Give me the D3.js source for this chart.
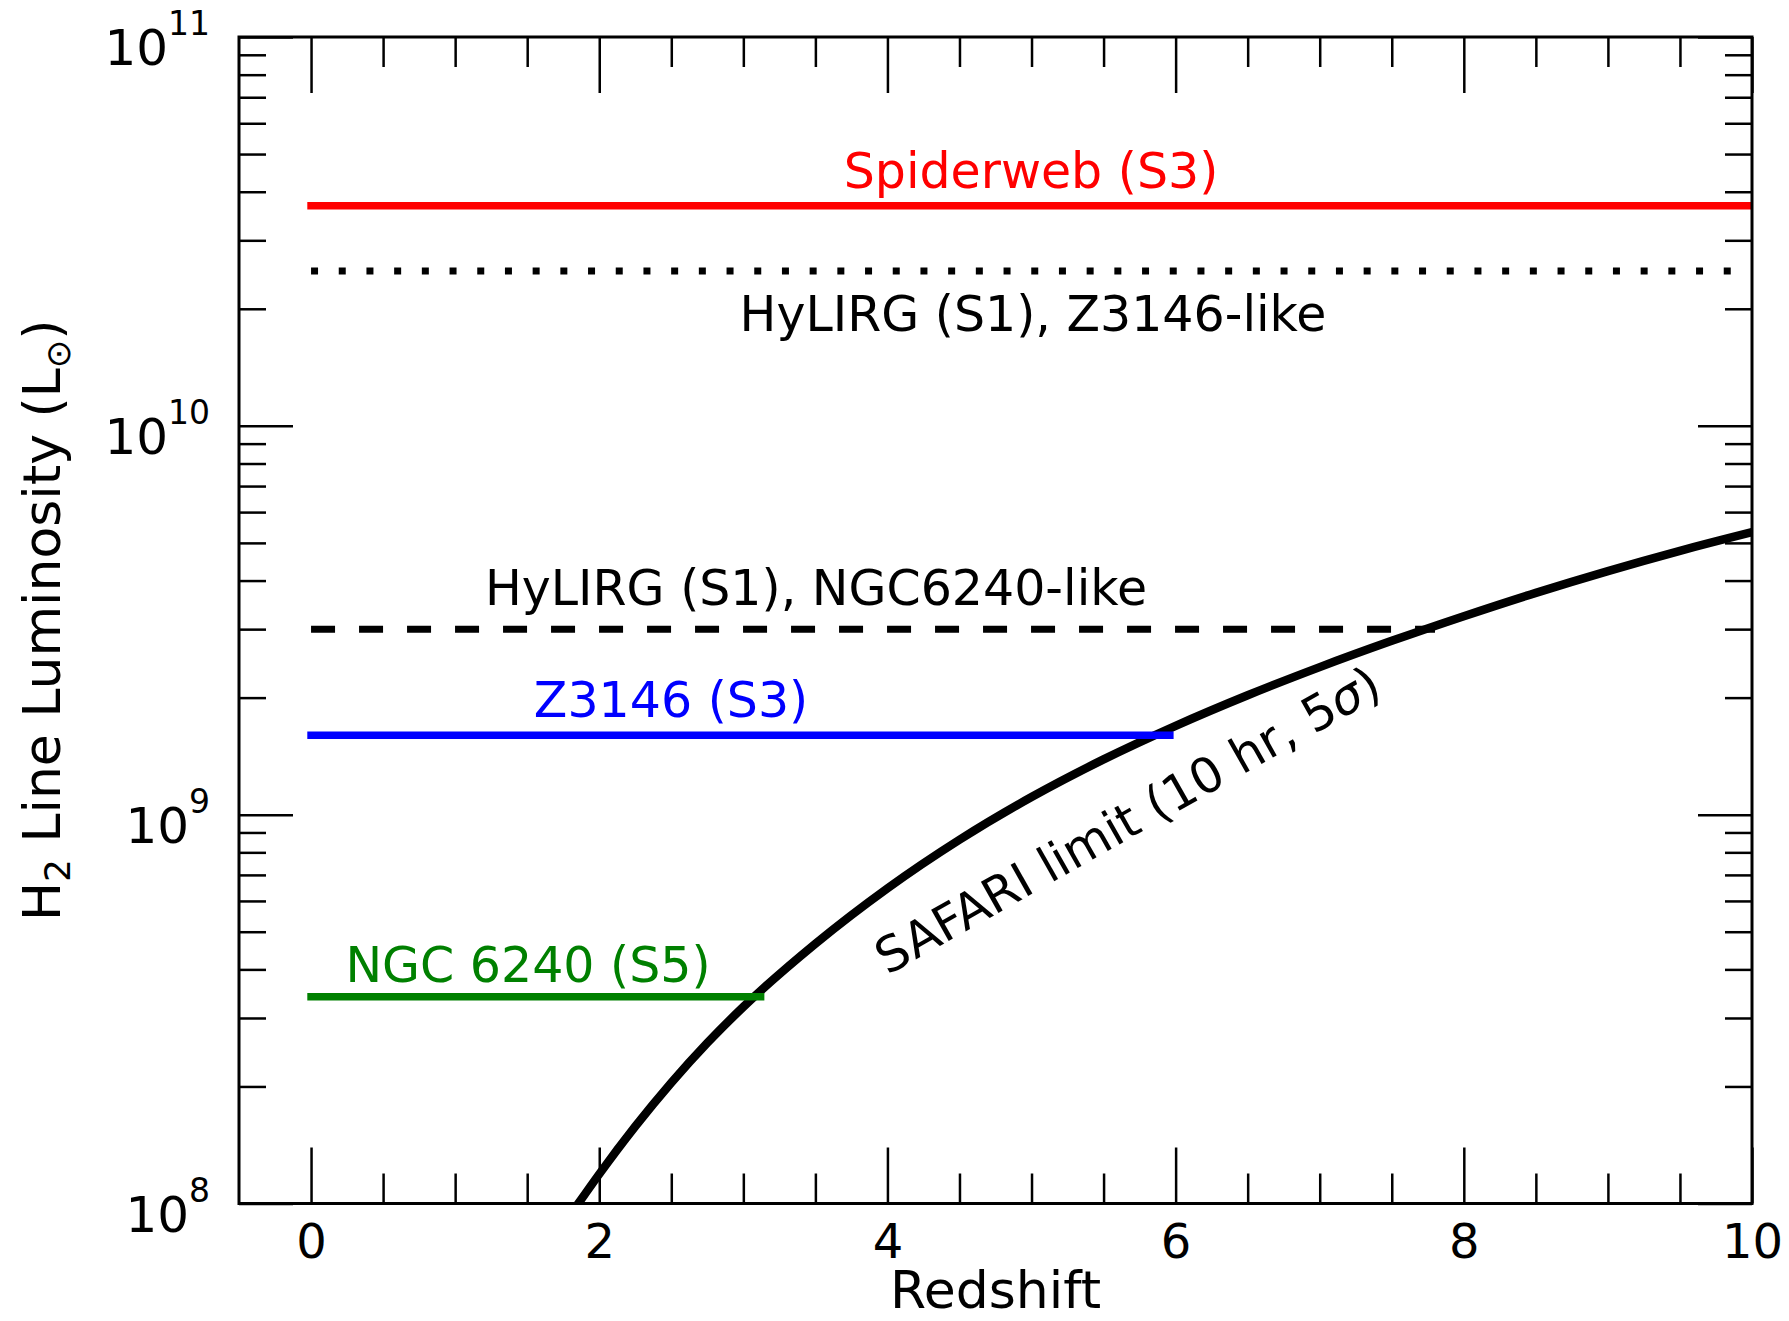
<!DOCTYPE html>
<html>
<head>
<meta charset="utf-8">
<script src="https://cdn.jsdelivr.net/npm/d3@7"></script>
<style>
  html, body { margin: 0; padding: 0; background: #fff; }
  svg { display: block; }
  text { font-family: "DejaVu Sans", sans-serif; fill: #000; }
</style>
</head>
<body>
<div id="chart"></div>
<script>
// ---------------- data ----------------
const xMajorTicks = [0, 2, 4, 6, 8, 10];
const xMinorTicks = [0.5, 1, 1.5, 2.5, 3, 3.5, 4.5, 5, 5.5, 6.5, 7, 7.5, 8.5, 9, 9.5];
const yMajorTicks = [1e8, 1e9, 1e10, 1e11];
const yMajorExp = ["8", "9", "10", "11"];
const yMinorTicks = [2e8,3e8,4e8,5e8,6e8,7e8,8e8,9e8,
                     2e9,3e9,4e9,5e9,6e9,7e9,8e9,9e9,
                     2e10,3e10,4e10,5e10,6e10,7e10,8e10,9e10];

// SAFARI limit curve (10 hr, 5 sigma)
const safariZ = [1.85, 2.0, 2.25, 2.5, 2.75, 3.0, 3.5, 4.0, 4.5, 5.0, 5.5, 6.0, 6.5, 7.0, 7.5, 8.0, 8.5, 9.0, 9.5, 10.0];
const safariL = [9.94e7, 1.19e8, 1.578e8, 2.044e8, 2.588e8, 3.203e8, 4.656e8, 6.464e8, 8.62e8, 1.110e9, 1.387e9, 1.692e9, 2.028e9, 2.396e9, 2.799e9, 3.239e9, 3.72e9, 4.232e9, 4.771e9, 5.327e9];

// horizontal source luminosities
const srcNames  = ["Spiderweb (S3)", "HyLIRG (S1), Z3146-like", "HyLIRG (S1), NGC6240-like", "Z3146 (S3)", "NGC 6240 (S5)"];
const srcLum    = [3.68e10, 2.5e10, 3.0e9, 1.6e9, 3.4e8];
const srcZStart = [0, 0, 0, 0, 0];
const srcZEnd   = [10, 10, 7.8, 5.96, 3.12];
const srcColor  = ["#ff0000", "#000000", "#000000", "#0000ff", "#008000"];
const srcDash   = [null, "7,20.7", "24,24", null, null];

// ---------------- layout ----------------
const W = 1789, H = 1321;
const L = 239, R = 1752, T = 37, B = 1203.5;

const svg = d3.select("#chart").append("svg")
  .attr("width", W).attr("height", H);

const x = d3.scaleLinear().domain([-0.5, 10]).range([L, R]);
const y = d3.scaleLog().domain([1e8, 1e11]).range([B, T]);

svg.append("defs").append("clipPath").attr("id", "plotclip")
  .append("rect").attr("x", L).attr("y", T).attr("width", R - L).attr("height", B - T);

const plot = svg.append("g").attr("clip-path", "url(#plotclip)");

// SAFARI curve
const curveData = safariZ.map((z, i) => [z, safariL[i]]);
plot.append("path")
  .datum(curveData)
  .attr("fill", "none")
  .attr("stroke", "#000")
  .attr("stroke-width", 8.5)
  .attr("d", d3.line().x(d => x(d[0])).y(d => y(d[1])).curve(d3.curveMonotoneX));

// horizontal lines
srcNames.forEach((name, i) => {
  const ln = plot.append("line")
    .attr("x1", x(srcZStart[i])).attr("x2", x(srcZEnd[i]))
    .attr("y1", y(srcLum[i])).attr("y2", y(srcLum[i]))
    .attr("stroke", srcColor[i])
    .attr("stroke-width", srcDash[i] ? 7 : 7.5)
    .attr("stroke-linecap", srcDash[i] ? "butt" : "square");
  if (srcDash[i]) ln.attr("stroke-dasharray", srcDash[i]);
});

// ---------------- axes ----------------
function styleAxis(g) {
  g.select(".domain").remove();
  g.selectAll(".tick line").attr("stroke", "#000").attr("stroke-width", 2.5);
  g.selectAll(".tick text").style("font-family", "DejaVu Sans").attr("fill", "#000");
}

// bottom
svg.append("g").attr("transform", `translate(0,${B})`)
  .call(d3.axisBottom(x).tickValues(xMajorTicks).tickSize(-56).tickPadding(20).tickFormat(d3.format("d")))
  .call(styleAxis)
  .selectAll(".tick text").style("font-size", "48px");
svg.append("g").attr("transform", `translate(0,${B})`)
  .call(d3.axisBottom(x).tickValues(xMinorTicks).tickSize(-30).tickFormat(""))
  .call(styleAxis);
// top
svg.append("g").attr("transform", `translate(0,${T})`)
  .call(d3.axisTop(x).tickValues(xMajorTicks).tickSize(-56).tickFormat(""))
  .call(styleAxis);
svg.append("g").attr("transform", `translate(0,${T})`)
  .call(d3.axisTop(x).tickValues(xMinorTicks).tickSize(-30).tickFormat(""))
  .call(styleAxis);
// left
svg.append("g").attr("transform", `translate(${L},0)`)
  .call(d3.axisLeft(y).tickValues(yMajorTicks).tickSize(-54).tickFormat(""))
  .call(styleAxis);
svg.append("g").attr("transform", `translate(${L},0)`)
  .call(d3.axisLeft(y).tickValues(yMinorTicks).tickSize(-27).tickFormat(""))
  .call(styleAxis);
// right
svg.append("g").attr("transform", `translate(${R},0)`)
  .call(d3.axisRight(y).tickValues(yMajorTicks).tickSize(-54).tickFormat(""))
  .call(styleAxis);
svg.append("g").attr("transform", `translate(${R},0)`)
  .call(d3.axisRight(y).tickValues(yMinorTicks).tickSize(-27).tickFormat(""))
  .call(styleAxis);

// y tick labels 10^n
const ylab = svg.append("g");
yMajorTicks.forEach((v, i) => {
  const t = ylab.append("text")
    .attr("x", L - 29).attr("y", y(v) + 28)
    .attr("text-anchor", "end")
    .style("font-size", "50px");
  t.append("tspan").text("10");
  t.append("tspan").attr("dy", -30).style("font-size", "33px").text(yMajorExp[i]);
});

// frame
svg.append("rect")
  .attr("x", L).attr("y", T).attr("width", R - L).attr("height", B - T)
  .attr("fill", "none").attr("stroke", "#000").attr("stroke-width", 3);

// ---------------- labels ----------------
svg.append("text")
  .attr("x", (L + R) / 2).attr("y", 1308)
  .attr("text-anchor", "middle")
  .style("font-size", "52px")
  .text("Redshift");

const yl = svg.append("text")
  .attr("transform", `translate(60,${(T + B) / 2}) rotate(-90)`)
  .attr("text-anchor", "middle")
  .style("font-size", "52px");
yl.append("tspan").text("H");
yl.append("tspan").attr("dy", 10).style("font-size", "36px").text("2");
yl.append("tspan").attr("dy", -10).text(" Line Luminosity (L");
yl.append("tspan").attr("dy", 10).style("font-size", "34px").text("\u2299");
yl.append("tspan").attr("dy", -10).text(")");

// annotations
const annX = [1031, 1033, 816, 671, 528];
const annY = [188, 331, 605, 717, 982];
srcNames.forEach((name, i) => {
  svg.append("text")
    .attr("x", annX[i]).attr("y", annY[i])
    .attr("text-anchor", "middle")
    .style("font-size", "49px")
    .style("fill", srcColor[i])
    .text(name);
});

const st = svg.append("text")
  .attr("transform", "translate(1136,835) rotate(-29.5)")
  .attr("text-anchor", "middle")
  .style("font-size", "49px");
st.append("tspan").text("SAFARI limit (10 hr, 5");
st.append("tspan").style("font-style", "italic").text("\u03c3");
st.append("tspan").text(")");
</script>
</body>
</html>
